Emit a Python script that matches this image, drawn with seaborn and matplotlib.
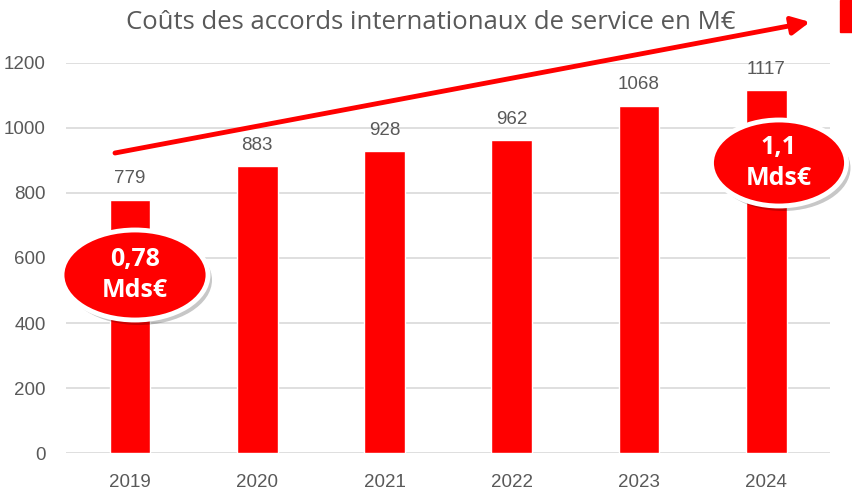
import matplotlib.pyplot as plt
import seaborn as sns
import pandas as pd
from matplotlib.patches import Ellipse, Rectangle

# data
years = ["2019", "2020", "2021", "2022", "2023", "2024"]
costs = [779, 883, 928, 962, 1068, 1117]
yticks = [0, 200, 400, 600, 800, 1000, 1200]

title = "Coûts des accords internationaux de service en M€"
badge_left = "0,78\nMds€"
badge_right = "1,1\nMds€"

RED = "#ff0000"
GREY = "#595959"
NUMFONT = ["Liberation Sans", "DejaVu Sans"]

sns.set_theme(style="white")
plt.rcParams["font.family"] = ["Open Sans", "DejaVu Sans"]

df = pd.DataFrame({"year": years, "cost": costs})

fig = plt.figure(figsize=(8.52, 4.99), dpi=100)
ax = fig.add_axes([0.078, 0.092, 0.896, 0.782])

sns.barplot(data=df, x="year", y="cost", color=RED, saturation=1,
            width=0.32, ax=ax, zorder=3)

ax.set_ylim(0, 1200)
ax.set_yticks(yticks)
ax.yaxis.grid(True, color="#d9d9d9", linewidth=1.2, zorder=0)
ax.set_xlabel("")
ax.set_ylabel("")
for s in ax.spines.values():
    s.set_visible(False)
ax.tick_params(axis="both", colors=GREY, labelsize=13.5, length=0)
ax.tick_params(axis="y", pad=15)
ax.tick_params(axis="x", pad=15)
for lbl in ax.get_yticklabels() + ax.get_xticklabels():
    lbl.set_family(NUMFONT)

for i, v in enumerate(costs):
    ax.text(i, v + 38, str(v), ha="center", va="bottom", color=GREY,
            fontsize=13.5, family=NUMFONT)

fig.text(0.505, 0.955, title, ha="center", va="center", color=GREY, fontsize=18.5)

# trend arrow, in figure pixels
ax.annotate("", xy=(810 / 852, 1 - 22 / 499), xycoords="figure fraction",
            xytext=(115 / 852, 1 - 153 / 499), textcoords="figure fraction",
            arrowprops=dict(arrowstyle="-|>,head_length=0.9,head_width=0.45",
                            color=RED, lw=3.5, shrinkA=0, shrinkB=0))

fig.patches.append(Rectangle((840 / 852, 1 - 32 / 499), 12 / 852, 32 / 499,
                             transform=fig.transFigure, color=RED))


def badge(cx, cy, w, h, txt):
    tr = fig.transFigure
    shadow = Ellipse(((cx + 4) / 852, 1 - (cy + 5) / 499), w / 852, h / 499,
                     transform=tr, facecolor="#000000", alpha=0.22,
                     edgecolor="none", zorder=5)
    body = Ellipse((cx / 852, 1 - cy / 499), w / 852, h / 499, transform=tr,
                   facecolor=RED, edgecolor="white", linewidth=3.5, zorder=6)
    fig.patches.extend([shadow, body])
    fig.text(cx / 852, 1 - cy / 499, txt, ha="center", va="center",
             color="white", fontsize=18, fontweight="bold",
             linespacing=1.35, zorder=7)


badge(135, 275, 146, 90, badge_left)
badge(779, 163, 135, 86, badge_right)

fig.savefig("out.png", dpi=100)
